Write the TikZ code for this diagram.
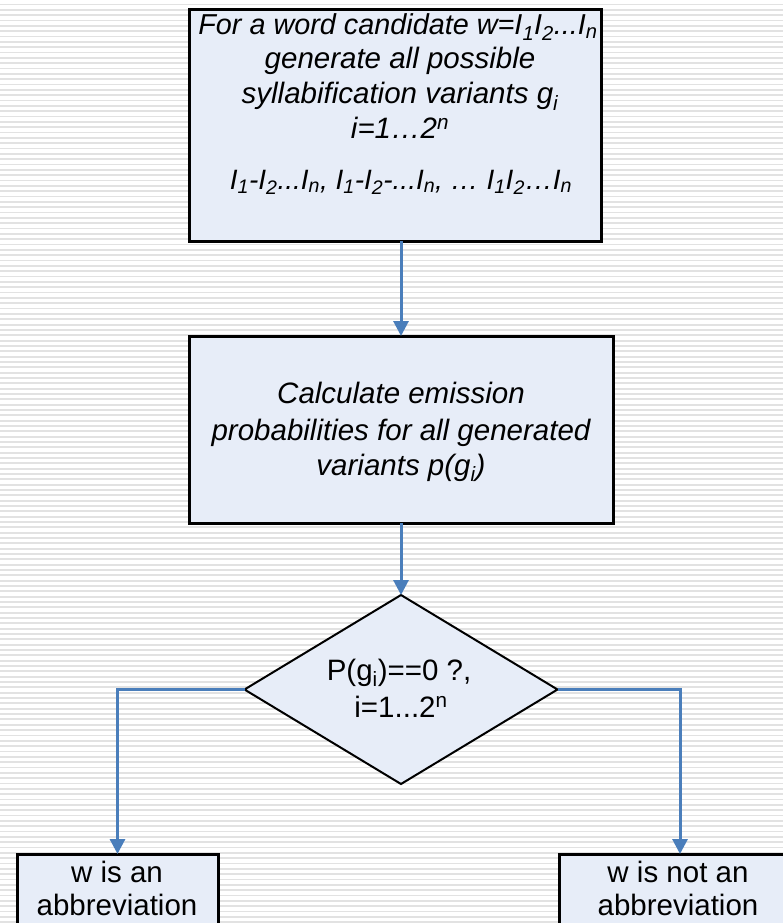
\documentclass[tikz,border=0pt]{standalone}
\usepackage{fontspec}
\setmainfont{Liberation Sans}
\usetikzlibrary{arrows.meta,shapes.geometric}
\definecolor{boxfill}{RGB}{231,237,248}
\definecolor{conncol}{RGB}{74,126,187}
\definecolor{stripecol}{RGB}{226,226,226}
\begin{document}
\begin{tikzpicture}[x=1pt,y=-1pt,
  box/.style={draw=black,line width=3pt,fill=boxfill,rectangle,inner sep=0pt,outer sep=0pt},
  txt/.style={anchor=base,inner sep=0pt,font=\fontsize{29.5}{34}\selectfont},
  itxt/.style={anchor=base,inner sep=0pt,font=\fontsize{29.5}{34}\selectfont\itshape},
  conn/.style={draw=conncol,line width=3pt,-{Triangle[length=15pt,width=15pt]}}]
\useasboundingbox (0,0) rectangle (783,923);
\fill[white] (0,0) rectangle (783,923);
\foreach \k in {0,...,172} \fill[stripecol] (0,{3.6+\k*5.335}) rectangle (783,{5.4+\k*5.335});
% boxes
\node[box,minimum width=412pt,minimum height=231pt] (b1) at (395,125.5) {};
\node[box,minimum width=424pt,minimum height=187pt] (b2) at (401,429.5) {};
\node[draw=black,line width=2pt,fill=boxfill,diamond,inner sep=0pt,outer sep=0pt,minimum width=313pt,minimum height=189pt] (d) at (401,689.5) {};
\node[box,anchor=north,minimum width=201pt,minimum height=100pt] (bl) at (117.5,854) {};
\node[box,anchor=north,minimum width=242pt,minimum height=100pt] (br) at (680,854) {};
% texts box 1
\node[itxt,font=\fontsize{28.8}{34}\selectfont\itshape] (t1a) at (398,35) {For a word candidate w=I\textsubscript{1}I\textsubscript{2}...I\textsubscript{n}};
\node[itxt] (t1b) at (400,69) {generate all possible};
\node[itxt] (t1c) at (400,104) {syllabification variants g\textsubscript{i}};
\node[itxt] (t1d) at (400,139) {i=1…2\textsuperscript{n}};
\node[itxt,font=\fontsize{28}{34}\selectfont\itshape] (t1e) at (401,189) {I\textsubscript{1}-I\textsubscript{2}...I\textsubscript{n}, I\textsubscript{1}-I\textsubscript{2}-...I\textsubscript{n}, … I\textsubscript{1}I\textsubscript{2}…I\textsubscript{n}};
% texts box 2
\node[itxt] (t2a) at (401,403) {Calculate emission};
\node[itxt] (t2b) at (401,440) {probabilities for all generated};
\node[itxt] (t2c) at (401,475) {variants p(g\textsubscript{i})};
% diamond text
\node[txt] (t3a) at (399,680) {P(g\textsubscript{i})==0 ?,};
\node[txt] (t3b) at (401,717) {i=1...2\textsuperscript{n}};
% bottom texts
\node[txt] (t4a) at (117,882) {w is an};
\node[txt] (t4b) at (117,915) {abbreviation};
\node[txt] (t5a) at (678,882) {w is not an};
\node[txt] (t5b) at (678,915) {abbreviation};
% connectors
\draw[conn] (b1.south -| b2.north) -- (b2.north);
\draw[conn] (b2.south) -- (d.north);
\draw[conn] (d.west) -| (bl.north);
\draw[conn] (d.east) -| (br.north);
\end{tikzpicture}
\end{document}
